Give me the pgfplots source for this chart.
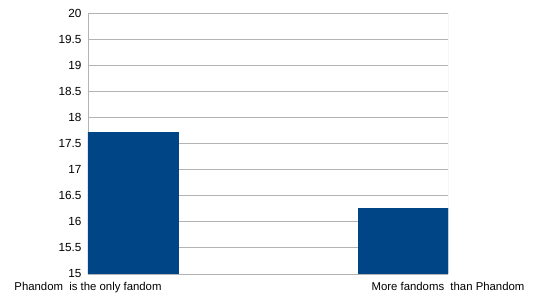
\documentclass[border=0pt]{standalone}
\usepackage{pgfplots}
\pgfplotsset{compat=1.18}
\usepackage{fontspec}
\setmainfont{Liberation Sans}
\definecolor{barblue}{HTML}{004586}
\definecolor{gridgray}{HTML}{B3B3B3}
\begin{document}
\begin{tikzpicture}
\useasboundingbox (-88bp,-30bp) rectangle (452bp,274bp);
\begin{axis}[
  at={(0,0)}, anchor=south west,
  scale only axis, width=360bp, height=261bp,
  xmin=-0.1666667, xmax=1.1666667,
  ymin=15, ymax=20,
  ytick={15,15.5,...,20},
  yticklabels={15,15.5,16,16.5,17,17.5,18,18.5,19,19.5,20},
  xtick={-0.1666667,1.1666667},
  xticklabels={Phandom\ \ is the only fandom, More fandoms\ \ than Phandom},
  x tick label style={font=\fontsize{11.4}{13}\selectfont, yshift=-2bp},
  y tick label style={font=\fontsize{11.8}{13}\selectfont, xshift=-3bp},
  /pgf/number format/assume math mode=true,
  ymajorgrids, grid style={gridgray, line width=0.8bp},
  axis line style={gridgray, line width=0.8bp},
  axis x line*=bottom,
  axis y line*=left,
  tick style={gridgray, line width=0.8bp},
  major tick length=3bp,
  ytick pos=left, xtick pos=bottom,
  xtick style={draw=none},
  ybar, bar width=0.3333333, bar shift=0pt,
]
\addplot[fill=barblue, draw=barblue] coordinates {(0,17.72) (1,16.26)};
\draw[gridgray, line width=0.8bp] (rel axis cs:1,0) -- (rel axis cs:1,1);
\end{axis}
\end{tikzpicture}
\end{document}
